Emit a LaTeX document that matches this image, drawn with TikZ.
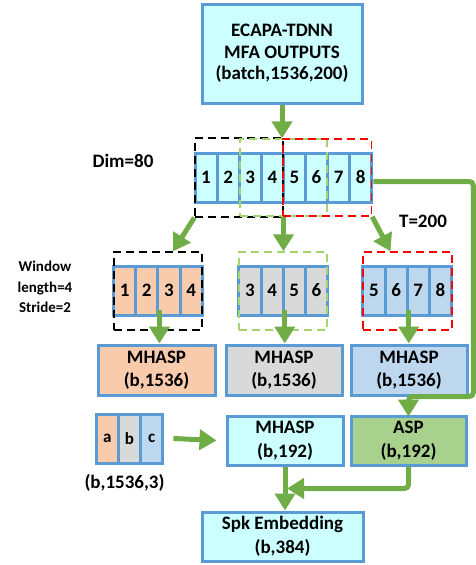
\documentclass[tikz,border=0pt]{standalone}
\usepackage{fontspec}
\setmainfont{Carlito}
\usetikzlibrary{arrows.meta,calc}
\definecolor{boxblue}{HTML}{5B9BD5}
\definecolor{cyanfill}{HTML}{CCFFFF}
\definecolor{peach}{HTML}{F8CBAD}
\definecolor{lgray}{HTML}{D9D9D9}
\definecolor{lblue}{HTML}{BDD7EE}
\definecolor{aspgreen}{HTML}{A9D18E}
\definecolor{arrgreen}{HTML}{70AD47}
\definecolor{dgreen}{HTML}{A3D46E}
\begin{document}
\begin{tikzpicture}[x=1pt,y=-1pt,
  box/.style={draw=boxblue, line width=3pt, fill=cyanfill, align=center, inner sep=0pt,
    font=\fontsize{19}{23.5}\selectfont\bfseries},
  cell/.style={draw=boxblue, line width=3pt, minimum width=22.1pt, minimum height=49pt,
    inner sep=0pt, font=\fontsize{19}{19}\selectfont\bfseries},
  frame/.style={line width=1.4pt, dash pattern=on 8pt off 5pt, minimum height=78pt, inner sep=0pt},
  arr/.style={draw=arrgreen, line width=5pt, -{Triangle[width=20pt,length=17pt]}},
  lab/.style={font=\fontsize{19}{21}\selectfont\bfseries, align=center, inner sep=0pt}]
\useasboundingbox (0,0) rectangle (475,565);

% top box
\node[box, minimum width=160pt, minimum height=99pt, font=\fontsize{19}{21.7}\selectfont\bfseries]
  (top) at (282,53.5) {ECAPA-TDNN\\MFA OUTPUTS\\(batch,1536,200)};

% main row of cells
\foreach \i in {1,...,8}
  \node[cell, fill=cyanfill] (c\i) at ({195+22.1*(\i-0.5)},177.5) {\i};

% windows
\foreach \i/\n in {1/1,2/2,3/3,4/4}
  \node[cell, fill=peach, minimum width=22.2pt] (wa\i) at ({113.5+22.2*(\i-0.5)},290.5) {\n};
\foreach \i/\n in {1/3,2/4,3/5,4/6}
  \node[cell, fill=lgray, minimum width=22.2pt] (wb\i) at ({239+22.1*(\i-0.5)},290.5) {\n};
\foreach \i/\n in {1/5,2/6,3/7,4/8}
  \node[cell, fill=lblue, minimum width=22.2pt] (wc\i) at ({363+22.1*(\i-0.5)},290.5) {\n};

% dashed frames
\node[frame, draw=black, minimum width=88pt, minimum height=79pt] (f1) at (239,177.5) {};
\node[frame, draw=dgreen, minimum width=87pt, minimum height=77pt] (f2) at (283.5,177.5) {};
\node[frame, draw=red, minimum width=88.5pt, minimum height=77pt] (f3) at (327.25,177.5) {};
\node[frame, draw=black, minimum width=88pt] (f4) at (158,291) {};
\node[frame, draw=dgreen, minimum width=88pt] (f5) at (283,291) {};
\node[frame, draw=red, minimum width=89pt] (f6) at (407.5,291) {};

% MHASP boxes
\node[box, fill=peach, minimum width=117pt, minimum height=50pt] (m1) at (156.5,370) {MHASP\\(b,1536)};
\node[box, fill=lgray, minimum width=116pt, minimum height=50pt] (m2) at (284,370) {MHASP\\(b,1536)};
\node[box, fill=lblue, minimum width=116pt, minimum height=50pt] (m3) at (409,370) {MHASP\\(b,1536)};

% abc
\node[cell, fill=peach, minimum width=22.3pt, font=\fontsize{17}{17}\selectfont\bfseries] (ca) at (107.2,438.5) {a};
\node[cell, fill=lgray, minimum width=22.3pt, font=\fontsize{17}{17}\selectfont\bfseries] (cb) at (129.5,438.5) {b};
\node[cell, fill=lblue, minimum width=22.3pt, font=\fontsize{17}{17}\selectfont\bfseries] (cc) at (151.8,438.5) {c};
\node[lab] (abclab) at (124.5,483) {(b,1536,3)};

% bottom boxes
\node[box, minimum width=116pt, minimum height=49pt] (m4) at (285,440.5) {MHASP\\(b,192)};
\node[box, fill=aspgreen, minimum width=115pt, minimum height=49pt] (asp) at (408.5,440.5) {ASP\\(b,192)};
\node[box, minimum width=161pt, minimum height=49pt] (spk) at (282.5,536.5) {Spk Embedding\\(b,384)};

% labels
\node[lab] (dim) at (123,161) {Dim=80};
\node[lab] (tlab) at (423,221) {T=200};
\node[lab, font=\fontsize{15}{20.5}\selectfont\bfseries] (win) at (45,287) {Window\\length=4\\Stride=2};

% arrows
\draw[arr] (top.south) -- (top.south |- f2.north);
\draw[arr] (f1.south west) -- ($(f4.north)+(15,0)$);
\draw[arr] (f2.south) -- (f2.south |- f5.north);
\draw[arr] (f3.south east) -- ($(f6.north)+(-17,0)$);
\draw[arr] ($(wa2.south east)+(0,-7)$) -- (wa2.south east |- m1.north);
\draw[arr] ($(wb2.south east)+(0,-7)$) -- (wb2.south east |- m2.north);
\draw[arr] ($(wc2.south east)+(0,-7)$) -- (wc2.south east |- m3.north);
\draw[arr] ($(cc.east)+(9,0)$) -- ($(m4.west)+(-9,0)$);
\draw[arr] (m4.south) -- (m4.south |- spk.north);
\draw[arr, rounded corners=4pt] (asp.south) |- ($(m4.south)+(2,22)$);
\draw[arr, rounded corners=4pt] ($(c8.east)+(0,4)$) -- ++(100,0) |- ($(asp.north)+(0,-18)$) -- ($(asp.north)+(0,2)$);
\end{tikzpicture}
\end{document}
